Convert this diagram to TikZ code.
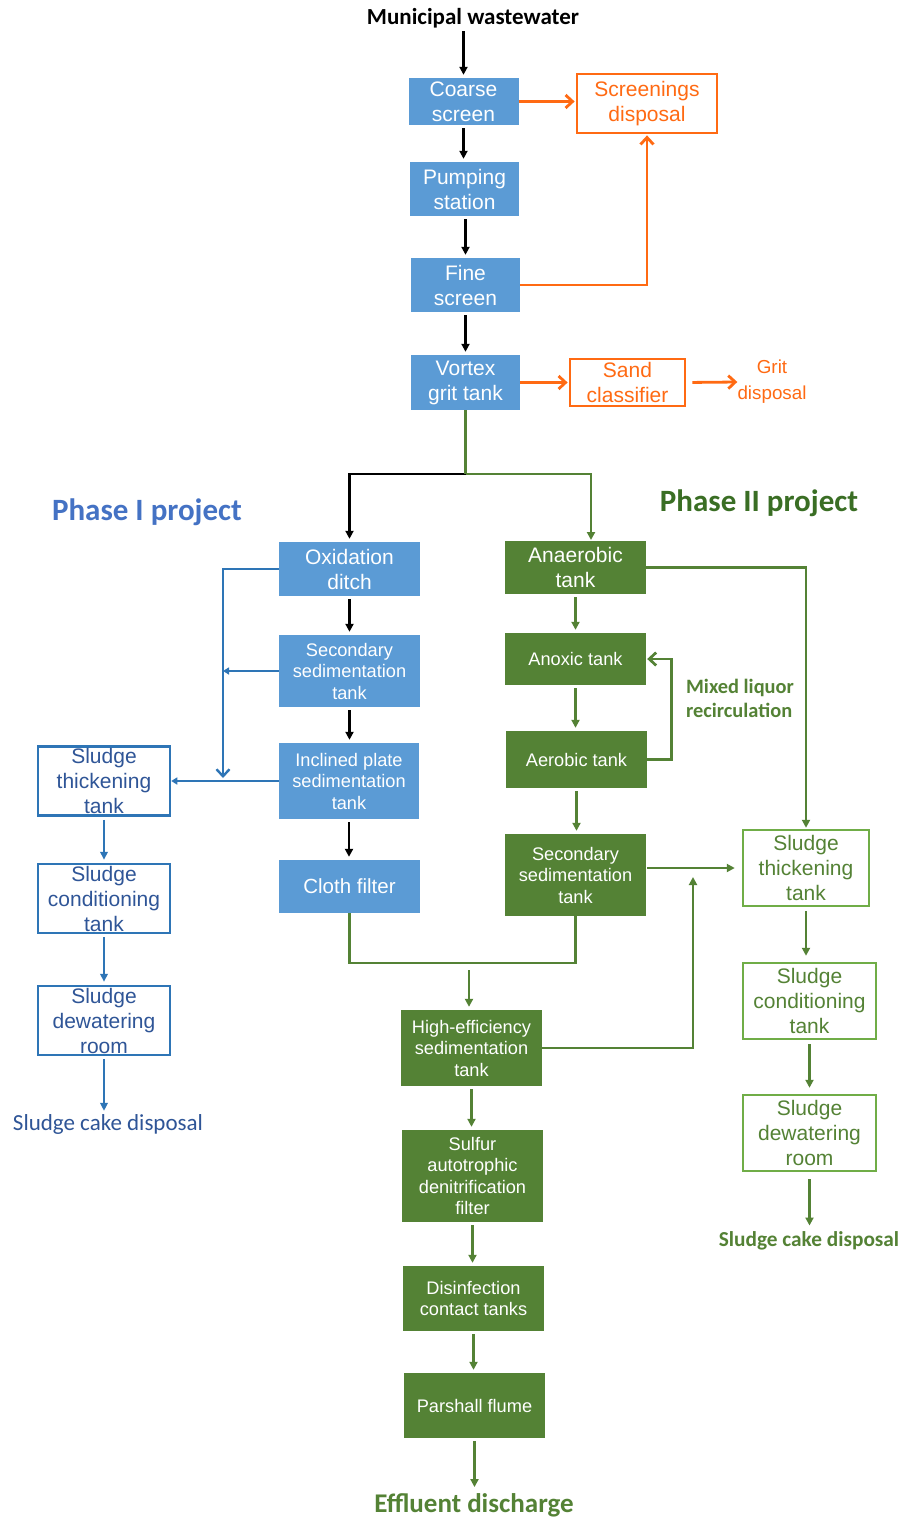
\documentclass[tikz,border=0pt]{standalone}
\usepackage{fontspec}
\setmainfont{Liberation Sans}
\newfontfamily\calfont{Carlito}
\usetikzlibrary{arrows.meta}
\definecolor{pblue}{HTML}{5B9BD5}
\definecolor{pgreen}{HTML}{548235}
\definecolor{lgreen}{HTML}{70AD47}
\definecolor{porange}{HTML}{FF6A13}
\definecolor{bcol}{HTML}{2E75B6}
\definecolor{btext}{HTML}{2F5597}
\definecolor{p1c}{HTML}{4472C4}
\definecolor{p2c}{HTML}{3A6E24}
\newcommand\fsz[2]{\fontsize{#1}{#2}\selectfont}
\tikzset{
  sz/.style 2 args={minimum width=#1pt, minimum height=#2pt},
  txt/.style={inner sep=0pt, align=center},
  big/.style={font=\fsz{21}{25}},
  small/.style={font=\fsz{18.2}{21.5}},
  fbox/.style={fill=pblue, text=white, inner sep=0pt, align=center},
  gbox/.style={fill=pgreen, text=white, inner sep=0pt, align=center},
  obox/.style={draw=porange, line width=2.8pt, text=porange, inner sep=0pt, align=center},
  bobox/.style={draw=bcol, line width=2.5pt, text=btext, inner sep=0pt, align=center},
  gobox/.style={draw=lgreen, line width=2.5pt, text=pgreen, inner sep=0pt, align=center},
  karr/.style={draw=black, line width=2.3pt, -{Triangle[length=8pt,width=8pt]}, shorten <=3pt, shorten >=3pt},
  oarr/.style={draw=porange, line width=2.8pt, -{Straight Barb[length=7pt,width=13pt]}, shorten >=1pt},
  bline/.style={draw=bcol, line width=2.4pt},
  barr/.style={draw=bcol, line width=2.4pt, -{Triangle[length=8pt,width=7.5pt]}, shorten <=3pt, shorten >=3pt},
  gline/.style={draw=pgreen, line width=2.7pt},
  garr/.style={draw=pgreen, line width=2.7pt, -{Triangle[length=8pt,width=8pt]}, shorten <=3pt, shorten >=3pt},
}
\begin{document}
\begin{tikzpicture}[x=1pt, y=-1pt]
\path[use as bounding box, fill=white] (0,0) rectangle (901,1517);

% top chain
\node[txt, font=\calfont\bfseries\fsz{23}{27}] (mw) at (473,18) {Municipal wastewater};
\node[fbox, big, sz={110}{47}] (cs) at (463.5,101.5) {Coarse\\screen};
\node[fbox, big, sz={109}{54}] (ps) at (464.5,189) {Pumping\\station};
\node[fbox, big, sz={109}{54}] (fs) at (465.5,285) {Fine\\screen};
\node[fbox, big, sz={109}{55}] (vg) at (465.5,382.5) {Vortex\\grit tank};
\node[obox, big, sz={140}{59}] (sd) at (647,103.5) {Screenings\\disposal};
\node[obox, big, sz={115}{47}] (sc) at (627.5,382.5) {Sand\\classifier};
\node[txt, text=porange, font=\fsz{18.8}{26}] (gd) at (772,382) {Grit\\disposal};

% labels
\node[txt, text=p1c, font=\calfont\bfseries\fsz{31}{35}] (p1) at (147,512) {Phase I project};
\node[txt, text=p2c, font=\calfont\bfseries\fsz{31}{35}] (p2) at (759,503) {Phase II project};

% Phase I
\node[fbox, big, sz={141}{54}] (ox) at (349.5,569) {Oxidation\\ditch};
\node[fbox, small, sz={141}{72}] (s1) at (349.5,671) {Secondary\\sedimentation\\tank};
\node[fbox, small, sz={140}{76}] (ip) at (349,781) {Inclined plate\\sedimentation\\tank};
\node[fbox, font=\fsz{20.5}{24}, sz={141}{53}] (cf) at (349.5,886.5) {Cloth filter};

\node[bobox, big, sz={132}{69}] (lt) at (104,781) {Sludge\\thickening\\tank};
\node[bobox, big, sz={132}{69}] (lc) at (104,898.5) {Sludge\\conditioning\\tank};
\node[bobox, big, sz={132}{69}] (ld) at (104,1020.5) {Sludge\\dewatering\\room};
\node[txt, text=btext, font=\calfont\fsz{23}{27}] (lk) at (108,1124) {Sludge cake disposal};

% Phase II
\node[gbox, big, sz={141}{53}] (an) at (575.5,567.5) {Anaerobic\\tank};
\node[gbox, small, sz={141}{52}] (ax) at (575.5,659) {Anoxic tank};
\node[gbox, small, sz={141}{57}] (ae) at (576.5,759.5) {Aerobic tank};
\node[gbox, small, sz={141}{82}] (s2) at (575.5,875) {Secondary\\sedimentation\\tank};
\node[txt, text=pgreen, align=left, font=\calfont\bfseries\fsz{20.4}{24}] (ml) at (740,698) {Mixed liquor\\recirculation};

\node[gobox, big, sz={126}{76}] (gt) at (806,868) {Sludge\\thickening\\tank};
\node[gobox, big, sz={133}{76}] (gc) at (809.5,1001) {Sludge\\conditioning\\tank};
\node[gobox, big, sz={133}{76}] (gw) at (809.5,1133) {Sludge\\dewatering\\room};
\node[txt, text=pgreen, font=\calfont\bfseries\fsz{21.3}{25}] (rk) at (809,1241) {Sludge cake disposal};

\node[gbox, small, sz={141}{76}] (he) at (471.5,1048) {High-efficiency\\sedimentation\\tank};
\node[gbox, small, sz={141}{92}] (sf) at (472.5,1176) {Sulfur\\autotrophic\\denitrification\\filter};
\node[gbox, small, sz={141}{65}] (dc) at (473.5,1298.5) {Disinfection\\contact tanks};
\node[gbox, small, sz={141}{65}] (pf) at (474.5,1405.5) {Parshall flume};
\node[txt, text=pgreen, font=\calfont\bfseries\fsz{27}{30}] (ef) at (474,1505) {Effluent discharge};

% coordinates
\coordinate (sp) at (465.5,474);
\coordinate (ant) at (591,541);
\coordinate (bj) at (223,778);
\coordinate (jn) at (469,963);
\coordinate (hu) at (693,877);

% black connectors
\draw[karr] (cs.north |- mw.south) -- (cs.north);
\draw[karr] (cs.south) -- (cs.south |- ps.north);
\draw[karr] (fs.north |- ps.south) -- (fs.north);
\draw[karr] (fs.south) -- (fs.south |- vg.north);
\draw[karr, shorten <=0pt] (sp) -| (ox.north);
\draw[karr] (ox.south) -- (s1.north);
\draw[karr] (s1.south) -- (s1.south |- ip.north);
\draw[karr] (ip.south) -- (ip.south |- cf.north);

% orange connectors
\draw[oarr] (cs.east) -- (cs.east -| sd.west);
\draw[oarr] (fs.east) -| (sd.south);
\draw[oarr] (vg.east) -- (sc.west);
\draw[oarr, shorten <=6pt, shorten >=0pt] (sc.east) -- (gd.west);

% green split
\draw[gline] (vg.south) -- (sp);
\draw[garr, shorten <=0pt, shorten >=1pt] (sp) -| (ant);

% blue connectors
\draw[bline, -{Straight Barb[length=7pt,width=13pt]}] (ox.west) -| (bj);
\draw[bline, -{Triangle[length=6pt,width=7pt]}] (s1.west) -- (s1.west -| bj);
\draw[bline, -{Triangle[length=6pt,width=7pt]}] (ip.west) -- (ip.west -| lt.east);
\draw[barr] (lt.south) -- (lc.north);
\draw[barr] (lc.south) -- (ld.north);
\draw[barr] (ld.south) -- (ld.south |- lk.north);

% green Phase II
\draw[garr] (an.south) -- (an.south |- ax.north);
\draw[garr] (ax.south) -- (ax.south |- ae.north);
\draw[garr] (ae.south) -- (ae.south |- s2.north);
\draw[gline, -{Straight Barb[length=7pt,width=13pt]}, shorten >=1pt] (ae.east) -- ++(24,0) |- (ax.east);
\draw[garr, shorten <=0pt, shorten >=1pt] (an.east) -| (gt.north);
\draw[garr, shorten <=1pt, shorten >=7pt] (s2.east |- gt.west) -- (gt.west);
\draw[gline] (cf.south) |- (jn) -| (s2.south);
\draw[garr, shorten <=7pt] (jn) -- (jn |- he.north);
\draw[garr, shorten <=0pt, shorten >=0pt] (he.east) -| (hu);
\draw[garr] (he.south) -- (he.south |- sf.north);
\draw[garr] (sf.south) -- (sf.south |- dc.north);
\draw[garr] (dc.south) -- (dc.south |- pf.north);
\draw[garr, shorten >=6pt] (pf.south) -- (pf.south |- ef.north);
\draw[garr, shorten <=4pt, shorten >=6pt] (gt.south) -- (gt.south |- gc.north);
\draw[garr, shorten <=4pt, shorten >=6pt] (gw.north |- gc.south) -- (gw.north);
\draw[garr, shorten <=7pt, shorten >=6pt] (gw.south) -- (gw.south |- rk.north);
\end{tikzpicture}
\end{document}
